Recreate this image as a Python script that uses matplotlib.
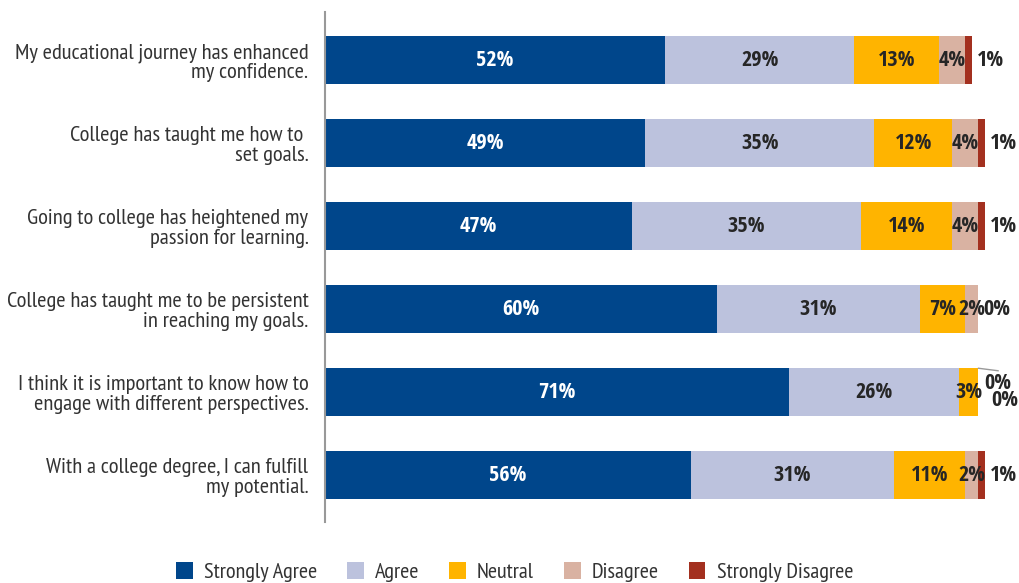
import matplotlib
matplotlib.use("Agg")
import matplotlib.pyplot as plt
import numpy as np
from matplotlib.patches import Patch

plt.rcParams["font.family"] = ["PT Sans Narrow", "DejaVu Sans"]
VALUE_FONT = ["Open Sans Condensed", "DejaVu Sans"]

questions = [
    "My educational journey has enhanced\nmy confidence.",
    "College has taught me how to \nset goals.",
    "Going to college has heightened my\npassion for learning.",
    "College has taught me to be persistent\nin reaching my goals.",
    "I think it is important to know how to\nengage with different perspectives.",
    "With a college degree, I can fulfill\nmy potential.",
]
levels = ["Strongly Agree", "Agree", "Neutral", "Disagree", "Strongly Disagree"]
strongly_agree = [52, 49, 47, 60, 71, 56]
agree = [29, 35, 35, 31, 26, 31]
neutral = [13, 12, 14, 7, 3, 11]
disagree = [4, 4, 4, 2, 0, 2]
strongly_disagree = [1, 1, 1, 0, 0, 1]
colors = ["#00468B", "#BCC2DD", "#FFB400", "#D9B2A2", "#A3301F"]

series = [strongly_agree, agree, neutral, disagree, strongly_disagree]

fig = plt.figure(figsize=(10.19, 5.83), dpi=100)
ax = fig.add_axes([0.319, 0.105, 0.681, 0.874])

y = np.arange(len(questions))
left = np.zeros(len(questions))
txt = "#262626"
lab = dict(ha="center", va="center", fontsize=16, fontweight="bold", family=VALUE_FONT)
for k, (vals, col) in enumerate(zip(series, colors)):
    vals = np.array(vals, dtype=float)
    ax.barh(y, vals, left=left, height=0.577, color=col, edgecolor="none")
    for i, v in enumerate(vals):
        if k == 4:
            if i == 4:
                continue
            ax.text(left[i] + v + 2.8, y[i], f"{v:.0f}%", color=txt, **lab)
        elif k == 3 and v == 0:
            continue
        else:
            ax.text(left[i] + v / 2, y[i], f"{v:.0f}%",
                    color="white" if k == 0 else txt, **lab)
    left += vals

# zero-width segments on the fifth row get offset labels with a leader line
end = left[4]
ax.plot([end, end + 3.0], [4 - 0.29, 4 - 0.26], color="#999999", lw=1)
ax.text(end + 3.0, 4 - 0.11, f"{disagree[4]}%", color=txt, **lab)
ax.text(end + 4.0, 4 + 0.1, f"{strongly_disagree[4]}%", color=txt, **lab)

ax.set_xlim(0, 106.2)
ax.set_ylim(len(questions) - 0.44, -0.58)
ax.set_yticks(y)
ax.set_yticklabels(questions, fontsize=16.2, color="#333333", linespacing=1.05)
ax.tick_params(axis="y", length=0, pad=12)
ax.set_xticks([])
for s in ["top", "right", "bottom"]:
    ax.spines[s].set_visible(False)
ax.spines["left"].set_color("#999999")
ax.spines["left"].set_linewidth(1.5)

handles = [Patch(facecolor=c, edgecolor="none") for c in colors]
fig.legend(handles, levels, loc="lower center", bbox_to_anchor=(0.505, -0.033),
           ncol=5, frameon=False, fontsize=16, handlelength=0.75, handleheight=0.75,
           columnspacing=1.35, handletextpad=0.5, labelcolor="#333333")

fig.savefig("out.png", dpi=100)
